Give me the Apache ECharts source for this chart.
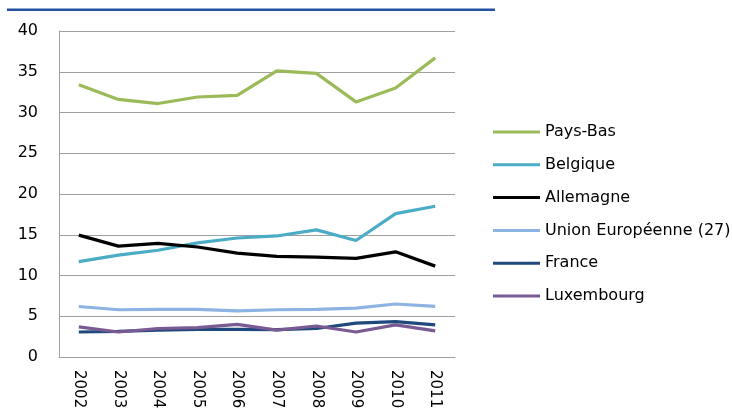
<!DOCTYPE html>
<html>
<head>
<meta charset="utf-8">
<script src="https://cdn.jsdelivr.net/npm/echarts@6/dist/echarts.min.js"></script>
<style>
html,body{margin:0;padding:0;background:#fff;}
#c{width:732px;height:417px;}
</style>
</head>
<body>
<div id="c"></div>
<script>
const years = ['2002','2003','2004','2005','2006','2007','2008','2009','2010','2011'];
const yTicks = [0, 5, 10, 15, 20, 25, 30, 35, 40];
const paysBas   = [33.4, 31.6, 31.1, 31.9, 32.1, 35.1, 34.8, 31.3, 33.0, 36.7];
const belgique  = [11.7, 12.5, 13.1, 14.0, 14.6, 14.85, 15.6, 14.3, 17.6, 18.5];
const allemagne = [14.95, 13.6, 13.95, 13.5, 12.75, 12.35, 12.25, 12.1, 12.9, 11.15];
const ue27      = [6.2, 5.8, 5.85, 5.85, 5.65, 5.8, 5.85, 6.0, 6.5, 6.2];
const france    = [3.07, 3.15, 3.3, 3.4, 3.4, 3.35, 3.5, 4.15, 4.35, 3.95];
const luxembourg= [3.7, 3.07, 3.5, 3.6, 4.0, 3.3, 3.8, 3.07, 3.95, 3.2];

const seriesDefs = [
  {name:'Pays-Bas', data:paysBas, color:'#9bbb59'},
  {name:'Belgique', data:belgique, color:'#4bacc6'},
  {name:'Allemagne', data:allemagne, color:'#000000'},
  {name:'Union Européenne (27)', data:ue27, color:'#8db3e2'},
  {name:'France', data:france, color:'#1f497d'},
  {name:'Luxembourg', data:luxembourg, color:'#795a93'}
];

const font = 'DejaVu Sans';
const chart = echarts.init(document.getElementById('c'));
chart.setOption({
  animation:false,
  backgroundColor:'#fff',
  graphic:[{type:'rect', shape:{x:7, y:8.5, width:488, height:2.5}, style:{fill:'#2350a0'}}],
  grid:{left:59, right:277, top:31, bottom:60},
  legend:{
    orient:'vertical', left:488, top:117,
    itemWidth:47, itemHeight:3, icon:'rect', itemGap:12.8,
    textStyle:{fontFamily:font, fontSize:16, color:'#000', lineHeight:20},
    data: seriesDefs.map(s=>s.name)
  },
  xAxis:{
    type:'category', data:years, boundaryGap:true,
    axisLine:{lineStyle:{color:'#a0a0a0', width:1}},
    axisTick:{show:false},
    axisLabel:{rotate:-90, fontFamily:font, fontSize:15, color:'#000', margin:13}
  },
  yAxis:{
    type:'value', min:0, max:40, interval:5,
    axisLine:{show:true, lineStyle:{color:'#a0a0a0', width:1}},
    axisTick:{show:false},
    splitLine:{lineStyle:{color:'#a0a0a0', width:1}},
    axisLabel:{fontFamily:font, fontSize:16, color:'#000', margin:21,
      formatter:v=>yTicks.includes(v)?String(v):''}
  },
  series: seriesDefs.map(s=>({
    name:s.name, type:'line', data:s.data, symbol:'none',
    lineStyle:{color:s.color, width:3.2}, itemStyle:{color:s.color}
  }))
});
</script>
</body>
</html>
